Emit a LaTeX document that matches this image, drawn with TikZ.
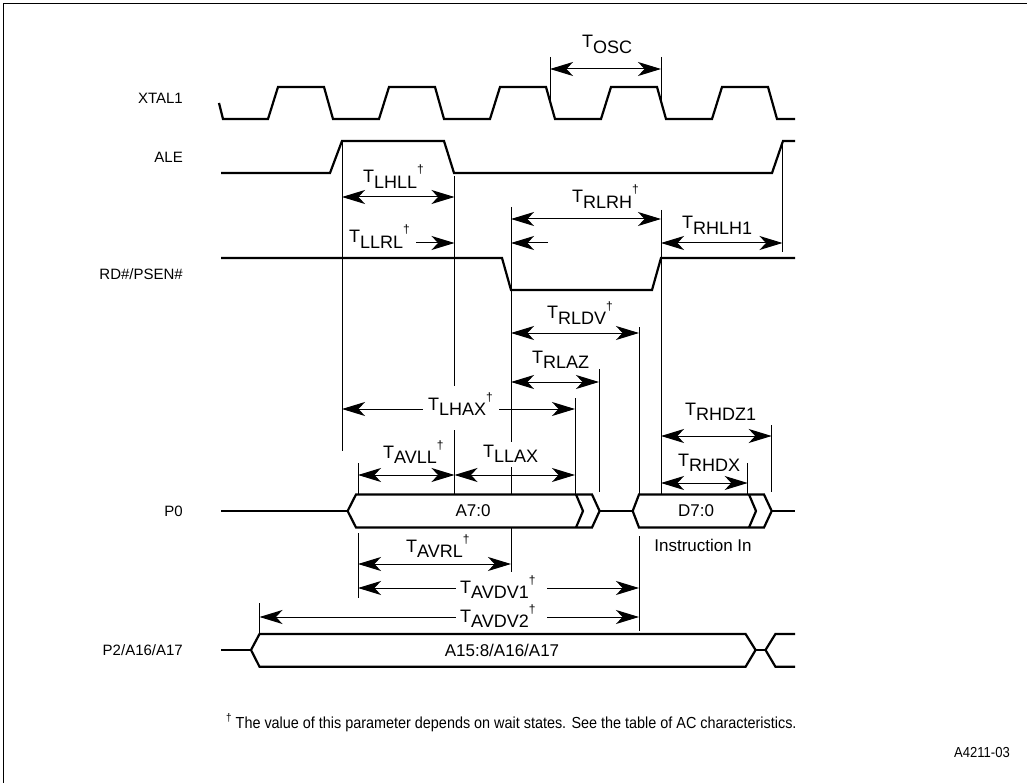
\documentclass[tikz,border=0pt]{standalone}
\usepackage{fontspec}
\setmainfont{Liberation Sans}
\usetikzlibrary{arrows.meta}
\newcommand{\tl}[2]{{\fontsize{18}{18}\selectfont T\raisebox{-5.5pt}{#1}#2}}
\newcommand{\dg}{\raisebox{9pt}{\fontsize{12}{12}\selectfont\textdagger}}
\tikzset{
  sig/.style={line width=2.2pt, line join=miter},
  dimln/.style={line width=1pt},
  tlab/.style={anchor=base west, inner sep=0pt},
  side/.style={anchor=east, inner sep=0pt, font=\fontsize{15}{15}\selectfont},
  bustxt/.style={inner sep=0pt, font=\fontsize{17}{17}\selectfont},
}
\begin{document}
\begin{tikzpicture}[x=1pt,y=-1pt,>={Stealth[length=23pt,width=14pt,inset=6.5pt]}]
\useasboundingbox (0,0) rectangle (1027,783);
% frame (top and left)
\draw[line width=1.4pt] (3.5,783) -- (3.5,3.5) -- (1027,3.5);

% side labels
\node[side] (lxtal) at (183,98) {XTAL1};
\node[side] (lale) at (183,157) {ALE};
\node[side] (lrd) at (183,274) {RD\#/PSEN\#};
\node[side] (lp0) at (183,511) {P0};
\node[side] (lp2) at (183,650) {P2/A16/A17};

% XTAL1
\draw[sig] (219,103) -- (223,119) -- (268,119) -- (278,87) -- (324,87) -- (333,119)
  -- (379,119) -- (389,87) -- (435,87) -- (444,119)
  -- (490,119) -- (500,87) -- (546,87) -- (555,119)
  -- (601,119) -- (611,87) -- (657,87) -- (666,119)
  -- (712,119) -- (722,87) -- (768,87) -- (777,119) -- (795,119);
% ALE
\draw[sig] (221,173) -- (330,173) -- (342,141) -- (444,141) -- (454,173) -- (772,173) -- (783,141) -- (795,141);
% RD#/PSEN#
\draw[sig] (221,258) -- (502,258) -- (511,290) -- (652,290) -- (661,258) -- (795,258);

% P0 bus
\draw[sig] (221,511) -- (347.6,511);
\draw[sig] (347.6,511) -- (356,494.5) -- (592,494.5) -- (599.6,511) -- (592,527.5) -- (356,527.5) -- cycle;
\draw[sig] (576,494.5) -- (583,511) -- (576,527.5);
\draw[sig] (599.6,511) -- (632.7,511);
\draw[sig] (632.7,511) -- (639,494.5) -- (764,494.5) -- (771.7,511) -- (764,527.5) -- (639,527.5) -- cycle;
\draw[sig] (749,494.5) -- (756,511) -- (749,527.5);
\draw[sig] (771.7,511) -- (795,511);
\node[bustxt] (ta70) at (473,511) {A7:0};
\node[bustxt] (td70) at (696,511) {D7:0};
\node[bustxt] (tinst) at (703,545) {Instruction In};

% P2 bus
\draw[sig] (221,650) -- (251,650);
\draw[sig] (251,650) -- (259.5,634) -- (745.6,634) -- (755.6,650) -- (745.6,666.7) -- (259.5,666.7) -- cycle;
\draw[sig] (755.6,650) -- (765.5,650);
\draw[sig] (795,634) -- (775.4,634) -- (765.5,650) -- (775.4,666.7) -- (795,666.7);
\node[bustxt] (ta15) at (502,650) {A15:8/A16/A17};

% vertical reference lines
\draw[dimln] (550,57) -- (550,104);
\draw[dimln] (661,57) -- (661,104);
\draw[dimln] (342,141) -- (342,451);
\draw[dimln] (454.5,176) -- (454.5,386);
\draw[dimln] (454.5,430) -- (454.5,494);
\draw[dimln] (511,207) -- (511,442);
\draw[dimln] (511,467) -- (511,494);
\draw[dimln] (511,528) -- (511,572);
\draw[dimln] (661,210) -- (661,494);
\draw[dimln] (782.5,141) -- (782.5,252);
\draw[dimln] (639,327) -- (639,494);
\draw[dimln] (639,536) -- (639,631);
\draw[dimln] (599,369) -- (599,492);
\draw[dimln] (575,398) -- (575,494);
\draw[dimln] (771.7,425) -- (771.7,492);
\draw[dimln] (747.7,463) -- (747.7,494);
\draw[dimln] (358,463) -- (358,494);
\draw[dimln] (358,533) -- (358,598);
\draw[dimln] (259.5,603) -- (259.5,634);

% timing arrows
\draw[dimln,<->] (550,69) -- (661,69);
\draw[dimln,<->] (342,197) -- (454.5,197);
\draw[dimln,<->] (511,219) -- (661,219);
\draw[dimln,->] (416,243) -- (454.5,243);
\draw[dimln,->] (548,243) -- (511,243);
\draw[dimln,<->] (661,243) -- (782.5,243);
\draw[dimln,<->] (511,333) -- (639,333);
\draw[dimln,<->] (511,382) -- (599,382);
\draw[dimln,<-] (342,409) -- (423,409);
\draw[dimln,->] (499,409) -- (575,409);
\draw[dimln,<->] (661,436) -- (771.7,436);
\draw[dimln,<->] (358,475) -- (454.5,475);
\draw[dimln,<->] (454.5,475) -- (575,475);
\draw[dimln,<->] (661,483) -- (747.7,483);
\draw[dimln,<->] (358,564) -- (511,564);
\draw[dimln,<-] (358,588) -- (456,588);
\draw[dimln,->] (547,588) -- (639,588);
\draw[dimln,<-] (259.5,617) -- (456,617);
\draw[dimln,->] (547,617) -- (639,617);

% timing labels
\node[tlab] (losc) at (582,48) {\tl{OSC}{}};
\node[tlab] (llhll) at (363,183) {\tl{LHLL}{\dg}};
\node[tlab] (lllrl) at (349,243) {\tl{LLRL}{\dg}};
\node[tlab] (lrlrh) at (572,203) {\tl{RLRH}{\dg}};
\node[tlab] (lrhlh) at (682,229) {\tl{RHLH1}{}};
\node[tlab] (lrldv) at (547,319) {\tl{RLDV}{\dg}};
\node[tlab] (lrlaz) at (532,363) {\tl{RLAZ}{}};
\node[tlab] (llhax) at (428,410) {\tl{LHAX}{\dg}};
\node[tlab] (lrhdz) at (685,415) {\tl{RHDZ1}{}};
\node[tlab] (lavll) at (383,458) {\tl{AVLL}{\dg}};
\node[tlab] (lllax) at (483,457) {\tl{LLAX}{}};
\node[tlab] (lrhdx) at (678,466) {\tl{RHDX}{}};
\node[tlab] (lavrl) at (406,552) {\tl{AVRL}{\dg}};
\node[tlab] (lavdv1) at (460,593) {\tl{AVDV1}{\dg}};
\node[tlab] (lavdv2) at (460,622) {\tl{AVDV2}{\dg}};

% footnote
\node[anchor=base west, inner sep=0pt, font=\fontsize{16}{16}\selectfont] (foot) at (226,728)
  {\scalebox{0.9}[1]{\raisebox{7pt}{\fontsize{11}{11}\selectfont\textdagger}\ The value of this parameter depends on wait states. See the table of AC characteristics.}};
\node[anchor=base east, inner sep=0pt, font=\fontsize{14.5}{14.5}\selectfont] (fig) at (1010,757) {\scalebox{0.9}[1]{A4211-03}};
\end{tikzpicture}
\end{document}
